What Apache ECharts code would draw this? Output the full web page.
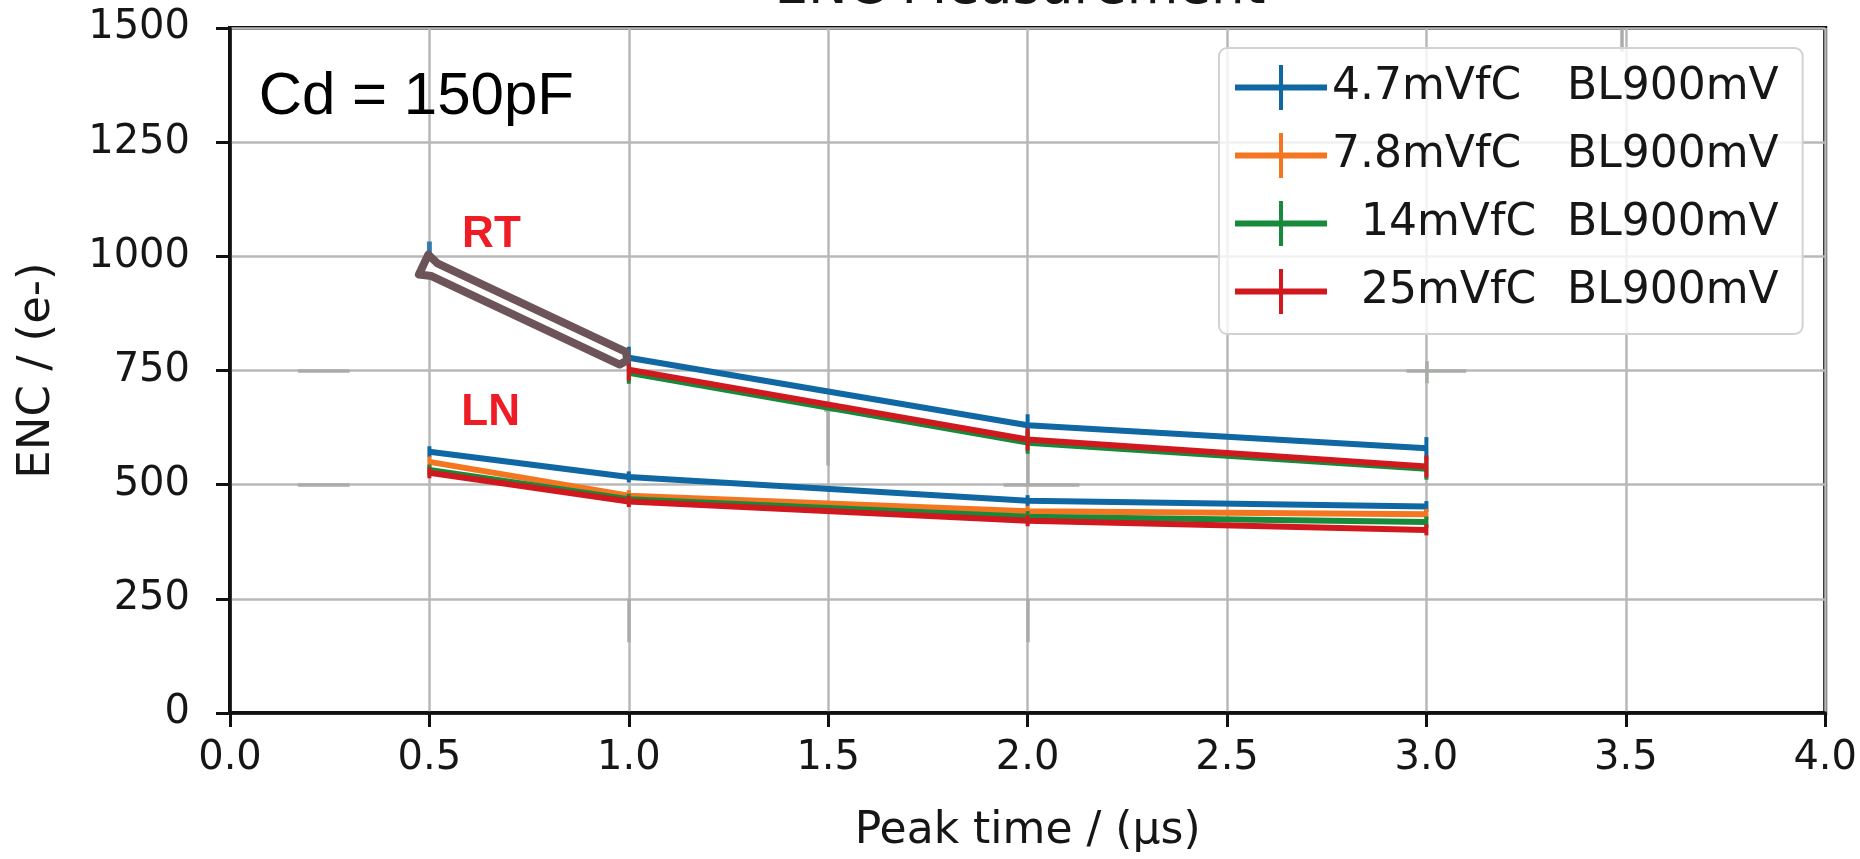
<!DOCTYPE html>
<html>
<head>
<meta charset="utf-8">
<script src="https://cdn.jsdelivr.net/npm/echarts@6/dist/echarts.min.js"></script>
<style>
html,body{margin:0;padding:0;background:#fff;}
#chart{width:1860px;height:859px;}
</style>
</head>
<body>
<div id="chart"></div>
<script>
// ---------- data ----------
const xTickLabels = ['0.0','0.5','1.0','1.5','2.0','2.5','3.0','3.5','4.0'];
const yTickLabels = ['0','250','500','750','1000','1250','1500'];
const peakTimes = [0.5, 1.0, 2.0, 3.0];
const gainLabels = ['4.7mVfC', '7.8mVfC', '14mVfC', '25mVfC'];
const baselineLabel = 'BL900mV';

// room temperature (RT) curves; the 0.5 -> 1.0 segment lies under the arrow
const rtBlue  = [1015, 778, 630, 580];
const rtGreen = [null, 745, 592, 535];
const rtRed   = [null, 752, 599, 540];
// liquid nitrogen (LN) curves
const lnBlue   = [572, 517, 465, 452];
const lnOrange = [550, 476, 442, 435];
const lnGreen  = [532, 468, 430, 418];
const lnRed    = [526, 463, 421, 401];

// annotation arrow (data coordinates)
const arrowFrom = [0.49, 980];
const arrowTo   = [0.985, 777];

// text notes (data coordinates)
const noteTexts = ['Cd = 150pF', 'RT', 'LN'];
const noteX = [0.072, 0.582, 0.58];
const noteY = [1348, 1048, 658];

// faint leftover marks in the picture (data coordinates)
const leftoverMarks = [
  [[0.17, 750], [0.30, 750]],
  [[0.17, 500], [0.30, 500]],
  [[1.5, 665], [1.5, 542]],
  [[1.49, 665], [1.53, 665]],
  [[2.0, 572], [2.0, 500]],
  [[1.94, 500], [2.13, 500]],
  [[1.0, 250], [1.0, 155]],
  [[2.0, 250], [2.0, 155]],
  [[2.95, 750], [3.1, 750]],
  [[3.0, 770], [3.0, 722]],
  [[3.49, 1500], [3.49, 1448]]
];

const titleText = 'ENC Measurement';
const xName = 'Peak time / (\u03bcs)';
const yName = 'ENC / (e-)';

// ---------- styling ----------
const colors = ['#0f67a3', '#f47620', '#17893a', '#d0181e'];
const seriesNames = gainLabels.map(g => g + ' ' + baselineLabel);
const txt = '#161616';
const plusIcon = 'path://M0,19.5H92V25.5H0Z M44,0H48V45H44Z';

function toPts(vals, startIdx) {
  const out = [];
  peakTimes.forEach((t, i) => {
    if (i >= startIdx && vals[i] !== null) out.push([t, vals[i]]);
  });
  return out;
}

function lineSeries(name, color, data, barH, z) {
  return {
    type: 'line', name: name, data: data, z: z,
    color: color,
    lineStyle: { color: color, width: 6 },
    itemStyle: { color: color },
    symbol: 'rect', symbolSize: [4, barH], showSymbol: true,
    animation: false, silent: true
  };
}

const series = [];
// RT group
series.push(lineSeries(seriesNames[0], colors[0], toPts(rtBlue, 1), 22, 3));
series.push({
  type: 'scatter', name: seriesNames[0], data: [[peakTimes[0], rtBlue[0]]],
  symbol: 'rect', symbolSize: [5, 16], itemStyle: { color: colors[0] }, z: 3, silent: true, animation: false
});
series.push(lineSeries(seriesNames[2], colors[2], toPts(rtGreen, 0), 22, 3));
series.push(lineSeries(seriesNames[3], colors[3], toPts(rtRed, 0), 22, 3));
// LN group
series.push(lineSeries(seriesNames[0], colors[0], toPts(lnBlue, 0), 11, 3));
series.push(lineSeries(seriesNames[1], colors[1], toPts(lnOrange, 0), 11, 3));
series.push(lineSeries(seriesNames[2], colors[2], toPts(lnGreen, 0), 11, 3));
series.push(lineSeries(seriesNames[3], colors[3], toPts(lnRed, 0), 11, 3));

// leftover faint marks
series.push({
  type: 'lines', coordinateSystem: 'cartesian2d', polyline: false,
  data: leftoverMarks.map(c => ({ coords: c })),
  lineStyle: { color: '#a9aca9', width: 3.5, opacity: 1 },
  z: 2, silent: true, animation: false
});

// arrow annotation
series.push({
  type: 'custom', coordinateSystem: 'cartesian2d', silent: true, animation: false, z: 10,
  data: [[arrowFrom[0], arrowFrom[1], arrowTo[0], arrowTo[1]]],
  encode: { x: [0, 2], y: [1, 3] },
  renderItem: function (params, api) {
    const a = api.coord([api.value(0), api.value(1)]);
    const b = api.coord([api.value(2), api.value(3)]);
    const dx = b[0] - a[0], dy = b[1] - a[1];
    const L = Math.sqrt(dx * dx + dy * dy);
    const d = [dx / L, dy / L];
    const n = [-d[1], d[0]];
    const P = (base, along, across) => [base[0] + d[0] * along + n[0] * across, base[1] + d[1] * along + n[1] * across];
    const w = 7, wh = 11;
    const pts = [
      P(a, -2, wh), P(a, 10, w), P(b, 0, w), P(b, 5, 0), P(b, 0, -w), P(a, 10, -w), P(a, -2, -wh)
    ];
    return {
      type: 'polygon',
      shape: { points: pts },
      style: { fill: '#ffffff', stroke: '#6d5459', lineWidth: 8, lineJoin: 'round' }
    };
  }
});

// text notes
const noteFonts = ['60px "Liberation Sans", Arial, sans-serif', 'bold 44px "Liberation Sans", Arial, sans-serif', 'bold 44px "Liberation Sans", Arial, sans-serif'];
const noteColors = ['#000000', '#ee1c24', '#ee1c24'];
series.push({
  type: 'custom', coordinateSystem: 'cartesian2d', silent: true, animation: false, z: 11,
  data: noteX.map((x, i) => [x, noteY[i], i]),
  encode: { x: 0, y: 1 },
  renderItem: function (params, api) {
    const p = api.coord([api.value(0), api.value(1)]);
    const idx = api.value(2);
    return {
      type: 'text',
      style: {
        x: p[0], y: p[1], text: noteTexts[idx], font: noteFonts[idx], fill: noteColors[idx],
        textAlign: 'left', textVerticalAlign: 'middle', align: 'left', verticalAlign: 'middle'
      }
    };
  }
});

const chart = echarts.init(document.getElementById('chart'), null, { renderer: 'canvas' });
const xMin = parseFloat(xTickLabels[0]), xMax = parseFloat(xTickLabels[xTickLabels.length - 1]);
const yMin = parseFloat(yTickLabels[0]), yMax = parseFloat(yTickLabels[yTickLabels.length - 1]);

const legendFont = 44;
chart.setOption({
  backgroundColor: '#ffffff',
  animation: false,
  grid: {
    left: 230, right: 29, top: 28, bottom: 141,
    show: true, borderColor: '#111111', borderWidth: 4, backgroundColor: 'transparent',
    containLabel: false
  },
  graphic: [{
    type: 'text', silent: true,
    style: {
      x: 1020, y: -11, text: titleText, font: '53px "DejaVu Sans", sans-serif', fill: txt,
      textAlign: 'center', textVerticalAlign: 'middle', align: 'center', verticalAlign: 'middle'
    }
  }],
  legend: {
    show: true,
    orient: 'vertical',
    left: 1219, top: 48,
    data: seriesNames,
    icon: plusIcon,
    itemWidth: 92, itemHeight: 45, itemGap: 23,
    padding: [17, 24, 20, 16],
    backgroundColor: 'rgba(255,255,255,0.8)',
    borderColor: '#d2d2d2', borderWidth: 2, borderRadius: 8,
    selectedMode: false,
    formatter: function (name) {
      const g = name.split(' ')[0];
      if (g.length < 7) return '{s| }{g2|' + g + '}{b|' + baselineLabel + '}';
      return '{g|' + g + '}{b|' + baselineLabel + '}';
    },
    textStyle: {
      fontSize: legendFont, fontFamily: 'DejaVu Sans', color: txt, lineHeight: 45,
      rich: {
        s: { width: 29, fontSize: legendFont, fontFamily: 'DejaVu Sans', lineHeight: 45 },
        g: { width: 235, fontSize: legendFont, fontFamily: 'DejaVu Sans', color: txt, lineHeight: 45 },
        g2: { width: 206, fontSize: legendFont, fontFamily: 'DejaVu Sans', color: txt, lineHeight: 45 },
        b: { fontSize: legendFont, fontFamily: 'DejaVu Sans', color: txt, lineHeight: 45 }
      }
    }
  },
  xAxis: {
    type: 'value', min: xMin, max: xMax, interval: 0.5,
    name: xName, nameLocation: 'middle', nameGap: 97,
    nameTextStyle: { fontSize: 44, fontFamily: 'DejaVu Sans', color: txt },
    axisLine: { show: true, onZero: false, lineStyle: { color: '#111111', width: 3.5 } },
    axisTick: { show: true, inside: false, length: 14, lineStyle: { color: '#111111', width: 3 } },
    axisLabel: {
      show: true, margin: 26, fontSize: 40, fontFamily: 'DejaVu Sans', color: txt,
      formatter: v => xTickLabels[Math.round((v - xMin) / 0.5)]
    },
    splitLine: { show: true, lineStyle: { color: '#b8b8b8', width: 2.5 } }
  },
  yAxis: {
    type: 'value', min: yMin, max: yMax, interval: 250,
    name: yName, nameLocation: 'middle', nameGap: 170, nameRotate: 90,
    nameTextStyle: { fontSize: 45, fontFamily: 'DejaVu Sans', color: txt },
    axisLine: { show: true, onZero: false, lineStyle: { color: '#111111', width: 3.5 } },
    axisTick: { show: true, inside: false, length: 14, lineStyle: { color: '#111111', width: 3 } },
    axisLabel: {
      show: true, margin: 40, fontSize: 40, fontFamily: 'DejaVu Sans', color: txt,
      formatter: v => yTickLabels[Math.round((v - yMin) / 250)]
    },
    splitLine: { show: true, lineStyle: { color: '#b8b8b8', width: 2.5 } }
  },
  series: series
});
</script>
</body>
</html>
